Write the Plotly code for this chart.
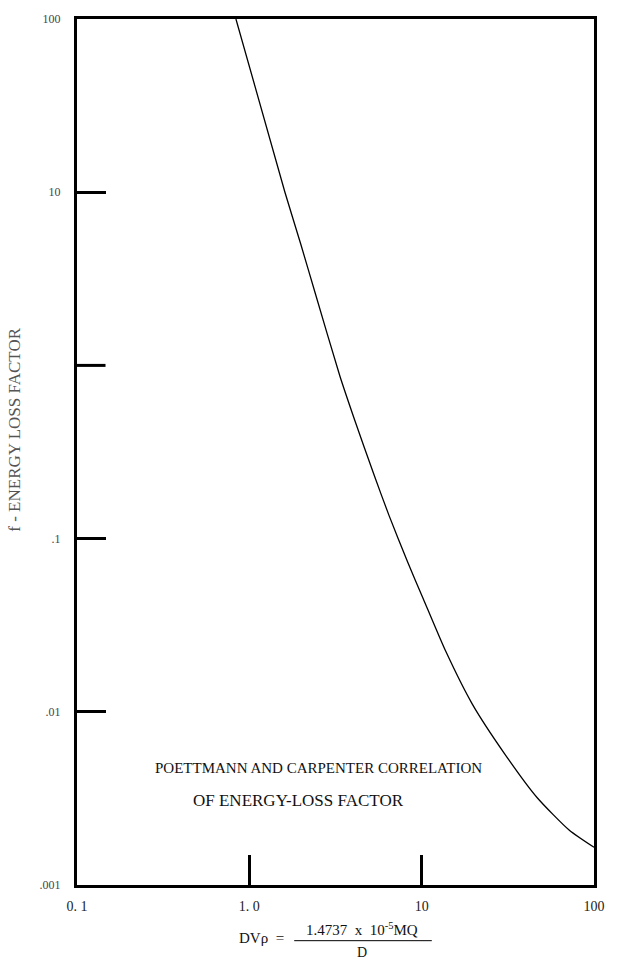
import math
import plotly.graph_objects as go

# Curve (x = DVrho, f = energy-loss factor)
dv_rho = [0.836, 1.609, 1.985, 2.415, 3.352, 4.080, 5.303, 6.454, 8.279,
          10.21, 13.80, 19.67, 30.30, 46.70, 71.96, 100.0]
f_factor = [100.0, 10.0, 5.04, 2.60, 0.869, 0.486, 0.232, 0.1366, 0.0734,
            0.0450, 0.02234, 0.01108, 0.00572, 0.00320, 0.00207, 0.00165]

x_tickvals = [0.1, 1, 10, 100]
x_ticktext = ["0. 1", "1. 0", "10", "100"]
y_tickvals = [100, 10, 0.1, 0.01, 0.001]
y_ticktext = ["100", "10", ".1", ".01", ".001"]
y_unlabelled_tick = 1  # tick drawn in the reference without a legible label

SERIF = "Liberation Serif, Times New Roman, serif"
W, H = 617, 979
ML, MR, MT, MB = 77, 14, 14, 94
PW, PH = W - ML - MR, H - MT - MB
Y_RANGE = [-3, 2]

def px_x(px):
    return (px - ML) / PW

def px_y(py):
    return (H - MB - py) / PH

fig = go.Figure()
fig.add_trace(go.Scatter(
    x=dv_rho, y=f_factor, mode="lines",
    line=dict(color="black", width=1.3, shape="spline", smoothing=0.6),
    showlegend=False, hoverinfo="skip"))

fig.update_layout(
    width=W, height=H,
    margin=dict(l=ML, r=MR, t=MT, b=MB),
    paper_bgcolor="white", plot_bgcolor="white",
    font=dict(family=SERIF, color="#222", size=11),
    xaxis=dict(type="log", range=[-1, 2], showgrid=False, zeroline=False,
               showline=True, linecolor="black", linewidth=3, mirror=True,
               ticks="inside", ticklen=30, tickwidth=3, tickcolor="black",
               tickvals=x_tickvals, ticktext=x_ticktext,
               ticklabelstandoff=6, tickfont=dict(family=SERIF, size=14, color="#222")),
    yaxis=dict(type="log", range=Y_RANGE, showgrid=False, zeroline=False,
               showline=True, linecolor="black", linewidth=3, mirror=True,
               ticks="inside", ticklen=29, tickwidth=3, tickcolor="black",
               tickvals=y_tickvals, ticktext=y_ticktext,
               ticklabelstandoff=11, tickfont=dict(family=SERIF, size=12, color="#444")),
)

# unlabelled inside tick at f = 1
y1 = (math.log10(y_unlabelled_tick) - Y_RANGE[0]) / (Y_RANGE[1] - Y_RANGE[0])
fig.add_shape(type="line", xref="paper", yref="paper",
              x0=0, x1=29 / PW, y0=y1, y1=y1,
              line=dict(color="black", width=3))

ann = [
    dict(text="f - ENERGY LOSS FACTOR", x=px_x(14), y=px_y(427), textangle=-90,
         font=dict(size=17, color="#555")),
    dict(text="POETTMANN AND CARPENTER CORRELATION", x=px_x(323), y=px_y(767),
         font=dict(size=15, color="#111")),
    dict(text="OF ENERGY-LOSS FACTOR", x=px_x(302), y=px_y(800),
         font=dict(size=17, color="#111")),
    dict(text="DV\u03c1  =", x=px_x(265), y=px_y(938),
         font=dict(size=15, color="#111")),
    dict(text="1.4737  x  10<sup>-5</sup>MQ", x=px_x(367), y=px_y(929),
         font=dict(size=15, color="#111")),
    dict(text="D", x=px_x(367), y=px_y(953),
         font=dict(size=14, color="#111")),
]
for a in ann:
    fig.add_annotation(xref="paper", yref="paper", showarrow=False,
                       xanchor="center", yanchor="middle", **a)

fig.add_shape(type="line", xref="paper", yref="paper",
              x0=px_x(298), x1=px_x(438), y0=px_y(941), y1=px_y(941),
              line=dict(color="black", width=1))

fig.write_html("out.html", config={"displayModeBar": False},
               post_script="document.body.style.margin='0';document.body.style.overflow='hidden';")
